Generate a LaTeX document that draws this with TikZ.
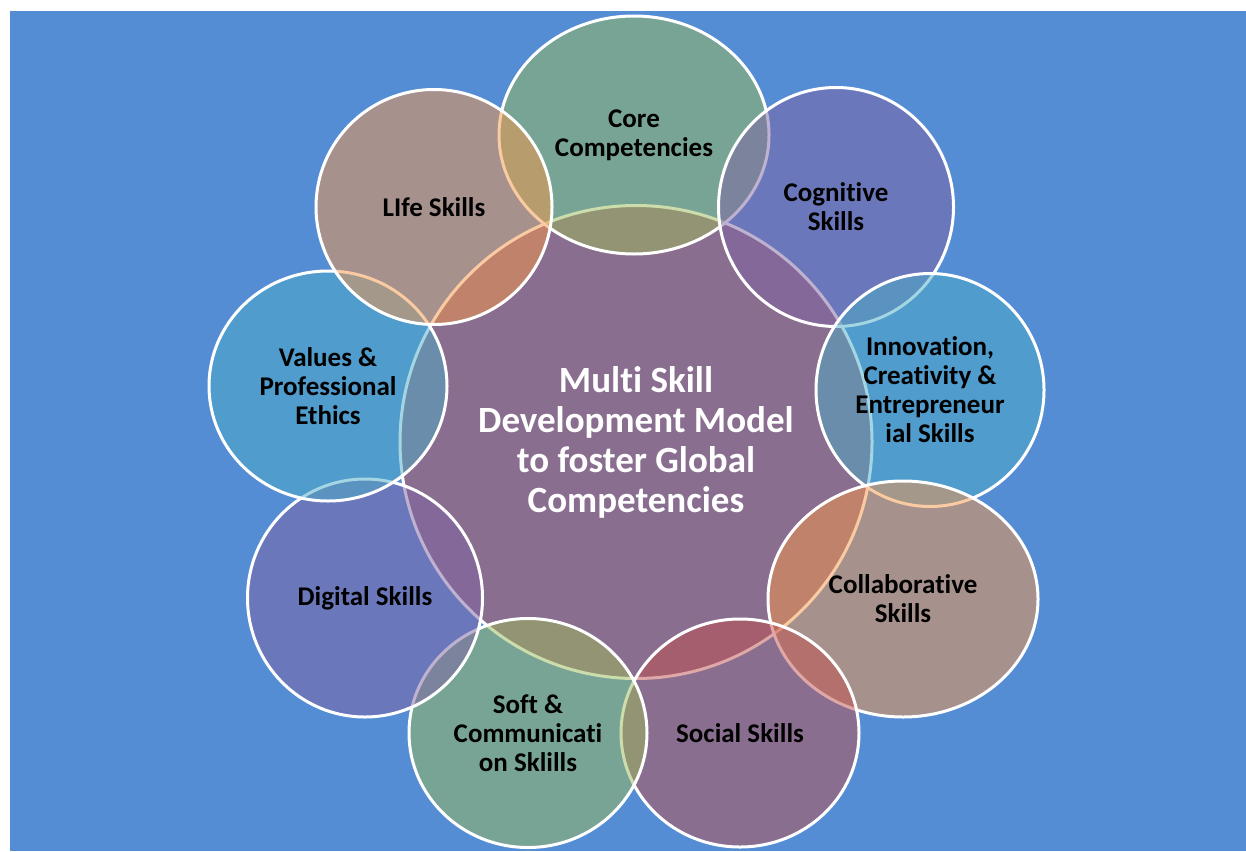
\documentclass[tikz,border=0pt]{standalone}
\usepackage{fontspec}
\setmainfont{Carlito}[Ligatures=NoCommon]
\usetikzlibrary{shapes.geometric}
\definecolor{bgblue}{HTML}{558DD5}
\definecolor{accred}{HTML}{C0504D}
\definecolor{accgreen}{HTML}{9BBB59}
\definecolor{accpurple}{HTML}{8064A2}
\definecolor{accaqua}{HTML}{4BACC6}
\definecolor{accorange}{HTML}{F79646}
\begin{document}
\begin{tikzpicture}[x=1pt, y=-1pt,
    skill/.style = {ellipse, draw=white, line width=3pt, fill opacity=0.5, text opacity=1,
      align=center, inner sep=0pt, font=\bfseries\fontsize{27}{29}\selectfont},
    hubstyle/.style = {skill, text=white, font=\bfseries\fontsize{37}{40}\selectfont}]

  \useasboundingbox (0,0) rectangle (1246,851);
  \fill[white] (0,0) rectangle (1246,851);
  \fill[bgblue] (10,11) rectangle (1246,851);

  % hub first, then the ring clockwise from the top
  \node[hubstyle, fill=accred, minimum width=472pt, minimum height=473pt] (hub) at (636,442)
    {Multi Skill\\Development Model\\to foster Global\\Competencies};
  \node[skill, fill=accgreen, minimum width=270pt, minimum height=238pt] (core) at (634,135)
    {Core\\Competencies};
  \node[skill, fill=accpurple, minimum width=235pt, minimum height=239pt] (cognitive) at (836,207)
    {Cognitive\\Skills};
  \node[skill, fill=accaqua, minimum width=228pt, minimum height=233pt] (innovation) at (930,390)
    {Innovation,\\Creativity \&\\Entrepreneur\\ial Skills};
  \node[skill, fill=accorange, minimum width=270pt, minimum height=236pt] (collab) at (903,599)
    {Collaborative\\Skills};
  \node[skill, fill=accred, minimum width=238pt, minimum height=228pt] (social) at (740,733)
    {Social Skills};
  \node[skill, fill=accgreen, minimum width=238pt, minimum height=229pt] (soft) at (528,733)
    {Soft \&\\Communicati\\on Sklills};
  \node[skill, fill=accpurple, minimum width=235pt, minimum height=238pt] (digital) at (365,598)
    {Digital Skills};
  \node[skill, fill=accaqua, minimum width=238pt, minimum height=230pt] (values) at (328,386)
    {Values \&\\Professional\\Ethics};
  \node[skill, fill=accorange, minimum width=236pt, minimum height=235pt] (life) at (434,207)
    {LIfe Skills};

\end{tikzpicture}
\end{document}
